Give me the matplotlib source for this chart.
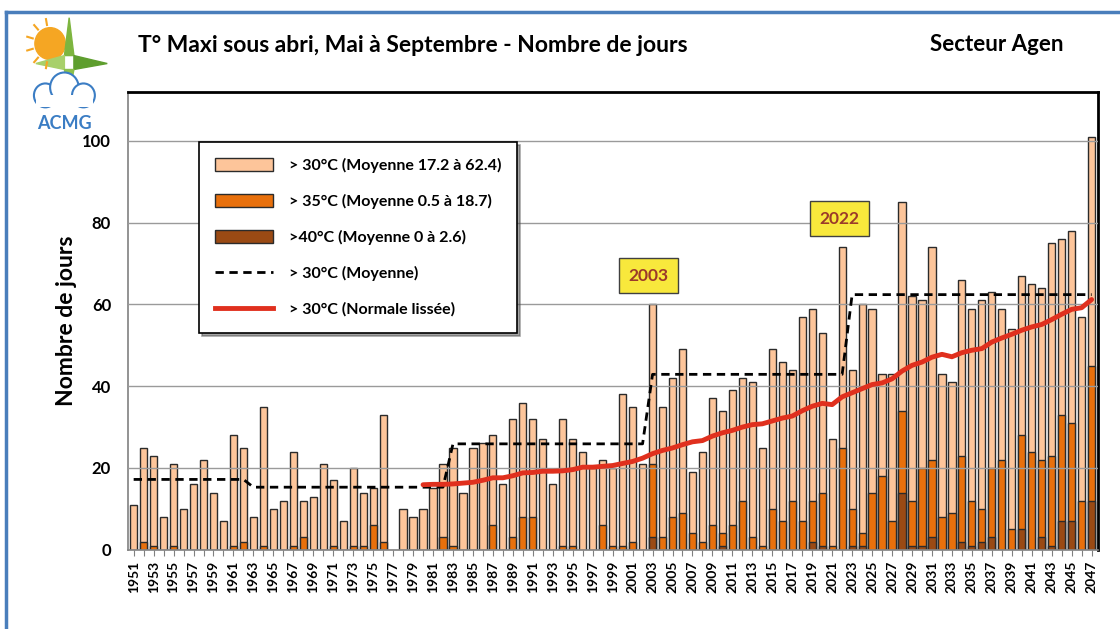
# -*- coding: utf-8 -*-
import numpy as np
import matplotlib
matplotlib.use("Agg")
import matplotlib.pyplot as plt
from matplotlib.patches import Patch, Rectangle, Circle, Polygon
from matplotlib.lines import Line2D

years = list(range(1951, 2048))

# nombre de jours > 30°C
j30 = [11, 25, 23, 8, 21, 10, 16, 22, 14, 7,
       28, 25, 8, 35, 10, 12, 24, 12, 13, 21,
       17, 7, 20, 14, 15, 33, 0, 10, 8, 10,
       15, 21, 25, 14, 25, 26, 28, 16, 32, 36,
       32, 27, 16, 32, 27, 24, 20, 22, 20, 38,
       35, 21, 60, 35, 42, 49, 19, 24, 37, 34,
       39, 42, 41, 25, 49, 46, 44, 57, 59, 53,
       27, 74, 44, 60, 59, 43, 43, 85, 62, 61,
       74, 43, 41, 66, 59, 61, 63, 59, 54, 67,
       65, 64, 75, 76, 78, 57, 101]

# nombre de jours > 35°C
j35 = [0, 2, 1, 0, 1, 0, 0, 0, 0, 0,
       1, 2, 0, 1, 0, 0, 1, 3, 0, 0,
       1, 0, 1, 1, 6, 2, 0, 0, 0, 0,
       0, 3, 1, 0, 0, 0, 6, 0, 3, 8,
       8, 0, 0, 1, 1, 0, 0, 6, 1, 1,
       2, 0, 21, 3, 8, 9, 4, 2, 6, 4,
       6, 12, 3, 1, 10, 7, 12, 7, 12, 14,
       1, 25, 10, 4, 14, 18, 7, 34, 12, 20,
       22, 8, 9, 23, 12, 10, 20, 22, 5, 28,
       24, 22, 23, 33, 31, 12, 45]

# nombre de jours > 40°C
j40 = [0] * 52 + [3, 0, 0, 0, 0, 0, 0, 1,
       0, 0, 0, 0, 0, 0, 0, 0, 2, 1,
       0, 0, 1, 1, 0, 0, 0, 14, 1, 1,
       3, 0, 0, 2, 1, 2, 3, 0, 0, 5,
       0, 3, 1, 7, 7, 0, 12]

# moyennes par période (> 30°C)
per_debut = [1951, 1963, 1983, 2003, 2023]
per_moy = [17.2, 15.3, 25.9, 42.9, 62.4]

# normale lissée (> 30°C), de 1980 à 2047
lisse_annees = list(range(1980, 2048))
lisse = [15.9, 16.0, 16.0, 16.1, 16.3, 16.5, 17.0, 17.6, 17.6, 18.1,
         18.8, 18.9, 19.2, 19.2, 19.3, 19.6, 20.2, 20.2, 20.4, 20.6,
         21.1, 21.6, 22.4, 23.5, 24.3, 24.9, 25.7, 26.4, 26.7, 27.8,
         28.6, 29.2, 30.0, 30.6, 30.8, 31.5, 32.2, 32.7, 34.0, 35.1,
         35.8, 35.5, 37.4, 38.4, 39.4, 40.4, 40.8, 41.8, 43.7, 45.1,
         45.9, 47.1, 47.8, 47.2, 48.2, 48.8, 49.2, 50.8, 51.8, 52.7,
         53.7, 54.5, 55.1, 56.3, 57.6, 58.8, 59.2, 61.2]

c30 = "#FDC59A"
c35 = "#E8700C"
c40 = "#9A4A14"
edge = "#2b2b2b"

plt.rcParams["font.family"] = ["Lato", "DejaVu Sans"]

fig = plt.figure(figsize=(11.2, 6.29), dpi=100)
ax = fig.add_axes([0.114, 0.126, 0.866, 0.728])

x = np.array(years)
for vals, col in [(j30, c30), (j35, c35), (j40, c40)]:
    v = np.array(vals)
    m = v > 0
    ax.bar(x[m], v[m], width=0.72, color=col, edgecolor=edge, linewidth=1.0, zorder=2)

# moyenne par période, en marches
moy = []
for a in years:
    k = max(i for i, d in enumerate(per_debut) if a >= d)
    moy.append(per_moy[k])
ax.plot(years, moy, color="black", linestyle=(0, (3.0, 2.0)), linewidth=2.0, zorder=4)
ax.plot(lisse_annees, lisse, color="#E0301E", linewidth=3.5, zorder=5, solid_capstyle="round")

ax.set_xlim(1950.4, 2047.6)
ax.set_ylim(0, 112)
ax.set_yticks([0, 20, 40, 60, 80, 100])
ax.yaxis.grid(True, color="#9a9a9a", linewidth=1.0, zorder=3)
ax.set_axisbelow(False)
ax.set_xticks(years)
ax.set_xticklabels([str(a) if (a - 1951) % 2 == 0 else "" for a in years],
                   rotation=90, fontsize=10, fontweight="bold")
for t in ax.get_yticklabels():
    t.set_fontsize(12)
    t.set_fontweight("bold")
ax.tick_params(axis="x", length=4, color="#808080", pad=4)
ax.tick_params(axis="y", length=0, pad=12)
ax.set_ylabel("Nombre de jours", fontsize=16.5, fontweight="bold", labelpad=4)
for s in ["top", "right"]:
    ax.spines[s].set_color("black")
    ax.spines[s].set_linewidth(2)
for s in ["left", "bottom"]:
    ax.spines[s].set_color("#808080")
    ax.spines[s].set_linewidth(1.2)

# étiquettes 2003 / 2022
for txt, xa, ya in [("2003", 2002.6, 67), ("2022", 2021.7, 81)]:
    ax.text(xa, ya, txt, ha="center", va="center", fontsize=12.5, fontweight="bold",
            color="#9B3A2A", zorder=6,
            bbox=dict(boxstyle="square,pad=0.55", facecolor="#F8E83C", edgecolor="#404040", linewidth=1))

handles = [Patch(facecolor=c30, edgecolor=edge), Patch(facecolor=c35, edgecolor=edge),
           Patch(facecolor=c40, edgecolor=edge),
           Line2D([], [], color="black", linestyle=(0, (3.0, 2.0)), linewidth=2.0),
           Line2D([], [], color="#E0301E", linewidth=3.5)]
labels = ["> 30°C (Moyenne 17.2 à 62.4)", "> 35°C (Moyenne 0.5 à 18.7)",
          ">40°C (Moyenne 0 à 2.6)", "> 30°C (Moyenne)", "> 30°C (Normale lissée)"]
leg = ax.legend(handles, labels, loc="upper left", bbox_to_anchor=(0.074, 0.89),
                prop={"weight": "bold", "size": 11.5}, frameon=True, fancybox=False,
                shadow=True, labelspacing=1.3, handlelength=3.6, handleheight=0.9,
                borderpad=1.0, handletextpad=1.0, borderaxespad=0)
leg.get_frame().set_edgecolor("black")
leg.get_frame().set_linewidth(1.2)
leg.set_zorder(7)

# titres
fig.text(0.123, 0.927, "T° Maxi sous abri, Mai à Septembre - Nombre de jours",
         fontsize=16.5, fontweight="bold", va="center")
fig.text(0.830, 0.929, "Secteur Agen", fontsize=16, fontweight="bold", va="center")

# cadre bleu
fig.add_artist(Line2D([0.005, 1.0], [0.981, 0.981], color="#4A7EBB", linewidth=2.5))
fig.add_artist(Line2D([0.005, 0.005], [0.0, 0.981], color="#4A7EBB", linewidth=2.5))

# logo ACMG (simplifié)
lax = fig.add_axes([0.015, 0.785, 0.085, 0.19])
lax.set_xlim(0, 100)
lax.set_ylim(0, 120)
lax.axis("off")
lax.add_patch(Circle((35, 92), 16, color="#F5A623"))
for ang in np.linspace(100, 260, 6):
    r = np.deg2rad(ang)
    lax.plot([35 + 19 * np.cos(r), 35 + 25 * np.cos(r)],
             [92 + 19 * np.sin(r), 92 + 25 * np.sin(r)], color="#F5A623", linewidth=1.5)
lax.add_patch(Polygon([[55, 118], [50, 80], [60, 80]], color="#7DB53F"))
lax.add_patch(Polygon([[20, 72], [50, 80], [50, 66]], color="#A8D06A"))
lax.add_patch(Polygon([[95, 72], [60, 80], [60, 66]], color="#5E9E2E"))
lax.add_patch(Polygon([[55, 40], [50, 66], [60, 66]], color="#8CC04C"))
for cx, cy, rr in [(30, 40, 12), (50, 48, 15), (70, 40, 12)]:
    lax.add_patch(Circle((cx, cy), rr, facecolor="white", edgecolor="#3B7DC4", linewidth=1.5))
lax.add_patch(Rectangle((20, 28), 60, 12, facecolor="white", edgecolor="none"))
lax.text(50, 12, "ACMG", ha="center", va="center", fontsize=13, fontweight="bold", color="#3B7DC4")

fig.savefig("out.png", dpi=100)
